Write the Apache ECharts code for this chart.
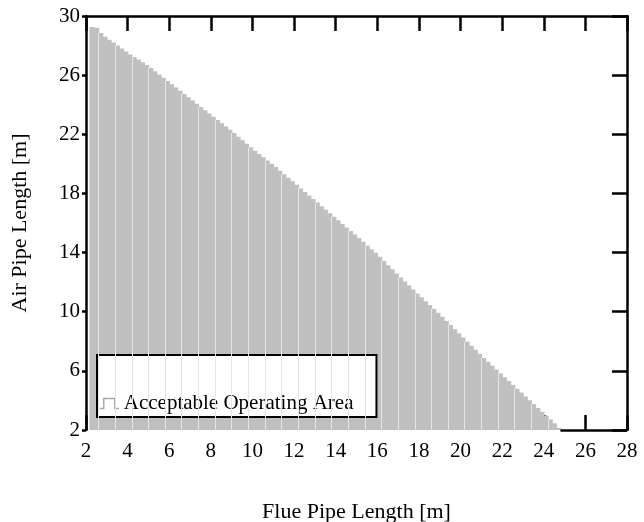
<!DOCTYPE html>
<html>
<head>
<meta charset="utf-8">
<script src="https://cdn.jsdelivr.net/npm/echarts@6/dist/echarts.min.js"></script>
<style>
html,body{margin:0;padding:0;background:#fff;}
#chart{width:644px;height:522px;}
</style>
</head>
<body>
<div id="chart"></div>
<script>
// Flue pipe length [m] (bar centres) and maximum air pipe length [m]
const flueLength = [
 2.3,2.5,2.7,2.9,3.1,3.3,3.5,3.7,3.9,4.1,4.3,4.5,4.7,4.9,5.1,5.3,5.5,5.7,5.9,
 6.1,6.3,6.5,6.7,6.9,7.1,7.3,7.5,7.7,7.9,8.1,8.3,8.5,8.7,8.9,9.1,9.3,9.5,9.7,9.9,
 10.1,10.3,10.5,10.7,10.9,11.1,11.3,11.5,11.7,11.9,12.1,12.3,12.5,12.7,12.9,
 13.1,13.3,13.5,13.7,13.9,14.1,14.3,14.5,14.7,14.9,15.1,15.3,15.5,15.7,15.9,
 16.1,16.3,16.5,16.7,16.9,17.1,17.3,17.5,17.7,17.9,18.1,18.3,18.5,18.7,18.9,
 19.1,19.3,19.5,19.7,19.9,20.1,20.3,20.5,20.7,20.9,21.1,21.3,21.5,21.7,21.9,
 22.1,22.3,22.5,22.7,22.9,23.1,23.3,23.5,23.7,23.9,24.1,24.3,24.5,24.7
];
const airLength = [
 29.25,29.2,28.85,28.6,28.4,28.2,28.0,27.8,27.6,27.4,27.23,27.05,26.87,26.69,26.49,26.27,26.05,25.83,25.61,
 25.39,25.17,24.95,24.73,24.51,24.29,24.07,23.85,23.63,23.41,23.19,22.97,22.75,22.53,22.31,22.08,21.84,21.6,21.36,21.12,
 20.89,20.67,20.45,20.23,20.01,19.78,19.54,19.3,19.06,18.82,18.58,18.34,18.1,17.86,17.62,
 17.38,17.14,16.9,16.66,16.42,16.18,15.94,15.7,15.46,15.22,14.98,14.73,14.48,14.23,13.98,
 13.71,13.43,13.15,12.87,12.59,12.32,12.05,11.78,11.51,11.24,10.97,10.71,10.45,10.19,9.93,
 9.66,9.38,9.1,8.82,8.54,8.26,7.98,7.7,7.42,7.14,6.87,6.61,6.35,6.09,5.83,
 5.57,5.31,5.05,4.79,4.53,4.27,4.01,3.75,3.49,3.23,2.97,2.71,2.45,2.15
];
const xTicks = {min: 2, max: 28, interval: 2};
const yTicks = {min: 2, max: 30, interval: 4};
const seriesName = 'Acceptable Operating Area';
const xTitle = 'Flue Pipe Length [m]';
const yTitle = 'Air Pipe Length [m]';

const FONT = 'Liberation Serif';
const barStep = 0.2;
const lineStyle = {color: '#000', width: 2.5};

// faint separators seen in the original rendering, every 4th bar edge
const marks = [];
for (let i = 2; i < flueLength.length; i += 4) {
  const xe = flueLength[i] - barStep / 2;
  const h = Math.min(airLength[i], airLength[i - 1]);
  marks.push([{coord: [xe, yTicks.min]}, {coord: [xe, h]}]);
}
// bottom frame line is hidden behind the bars in the original: draw it only beyond the last bar
const lastEdge = flueLength[flueLength.length - 1] + barStep / 2;
marks.push([
  {coord: [lastEdge, yTicks.min], lineStyle: {color: '#000', width: 2.5}},
  {coord: [xTicks.max, yTicks.min]}
]);

function xAxis(pos, labels) {
  return {
    type: 'value', position: pos, min: xTicks.min, max: xTicks.max, interval: xTicks.interval,
    axisLine: {show: !labels, onZero: false, lineStyle},
    axisTick: {show: true, inside: true, length: 15, lineStyle},
    axisLabel: {show: labels, fontFamily: FONT, fontSize: 21, color: '#000', margin: 11},
    splitLine: {show: false},
    name: labels ? xTitle : '', nameLocation: 'middle', nameGap: 71,
    nameTextStyle: {fontFamily: FONT, fontSize: 22, color: '#000'}
  };
}
function yAxis(pos, labels) {
  return {
    type: 'value', position: pos, min: yTicks.min, max: yTicks.max, interval: yTicks.interval,
    axisLine: {show: true, onZero: false, lineStyle},
    axisTick: {show: true, inside: !labels, length: labels ? 4 : 15, lineStyle},
    axisLabel: {show: labels, fontFamily: FONT, fontSize: 21, color: '#000', margin: 6},
    splitLine: {show: false},
    name: labels ? yTitle : '', nameLocation: 'middle', nameGap: 55,
    nameTextStyle: {fontFamily: FONT, fontSize: 22, color: '#000'}
  };
}

const chart = echarts.init(document.getElementById('chart'), null, {renderer: 'canvas'});
chart.setOption({
  animation: false,
  backgroundColor: '#fff',
  grid: {left: 86, right: 17, top: 16, bottom: 92, containLabel: false, outerBoundsMode: 'none'},
  xAxis: [xAxis('bottom', true), xAxis('top', false)],
  yAxis: [yAxis('left', true), yAxis('right', false)],
  legend: {
    left: 97, top: 355, orient: 'horizontal',
    backgroundColor: '#fff', borderColor: '#000', borderWidth: 2,
    padding: [38, 23, 3, 2],
    itemWidth: 19, itemHeight: 11,
    icon: 'path://M0,11 L4,11 L4,1 L15,1 L15,11 L19,11',
    itemStyle: {color: 'rgba(0,0,0,0)', borderColor: '#a8a8a8', borderWidth: 1.5},
    textStyle: {fontFamily: FONT, fontSize: 21, color: '#000'},
    data: [seriesName]
  },
  series: [{
    name: seriesName,
    type: 'bar',
    xAxisIndex: 0, yAxisIndex: 0,
    barWidth: 5.6,
    itemStyle: {color: '#c0c0c0'},
    data: flueLength.map((x, i) => [x, airLength[i]]),
    markLine: {
      silent: true, symbol: ['none', 'none'], label: {show: false},
      lineStyle: {color: '#e6e6e6', width: 1, type: 'solid'},
      data: marks
    }
  }]
});
</script>
</body>
</html>
